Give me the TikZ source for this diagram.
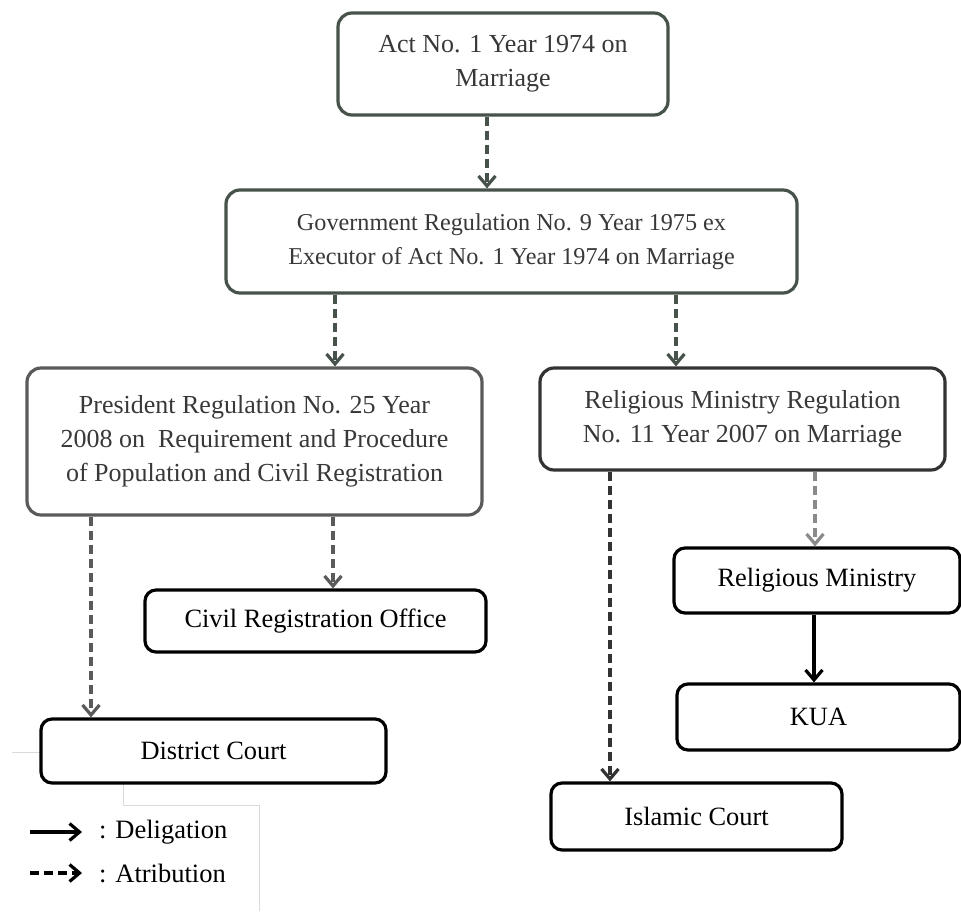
\documentclass[tikz,border=0pt]{standalone}
\usepackage{fontspec}
\setmainfont{Liberation Serif}
\usetikzlibrary{arrows.meta}
\definecolor{gdark}{HTML}{46524A}
\definecolor{gmid}{HTML}{5A5A5A}
\definecolor{glight}{HTML}{8A8A8A}
\definecolor{faintc}{HTML}{DADADA}
\begin{document}
\begin{tikzpicture}[x=1pt,y=-1pt,
  box/.style={draw, rounded corners=14pt, line width=3.2pt, align=center, inner sep=0pt},
  topbox/.style={box, draw=gdark, text=black!78, font=\fontsize{26}{34}\selectfont},
  lowbox/.style={box, draw=black, rounded corners=11pt, text=black, font=\fontsize{26.4}{34}\selectfont},
  tipa/.style={-{Straight Barb[length=10pt,width=17pt]}},
  attr/.style={tipa, line width=3.2pt, dash pattern=on 9pt off 5pt},
  deleg/.style={tipa, line width=3.2pt},
  faint/.style={draw=faintc, line width=1pt}
]
\useasboundingbox (0,0) rectangle (961,911);

% faint artefact lines
\draw[faint] (12,752) -- (41,752);
\draw[faint] (123,783) -- (123,805) -- (259,805) -- (259,911);

% boxes
\node[topbox, minimum width=330pt, minimum height=102pt] (act) at (503,64)
  {Act No. 1 Year 1974 on\\Marriage};
\node[topbox, font=\fontsize{24.2}{34}\selectfont, minimum width=571pt, minimum height=103pt] (gov) at (511.5,241.5)
  {Government Regulation No. 9 Year 1975 ex\\Executor of Act No. 1 Year 1974 on Marriage};
\node[topbox, draw=gmid, minimum width=455pt, minimum height=147pt] (pres) at (254.5,441.5)
  {President Regulation No. 25 Year\\2008 on \ Requirement and Procedure\\of Population and Civil Registration};
\node[topbox, draw=black!80, minimum width=405pt, minimum height=102pt] (rmr) at (742.5,419)
  {Religious Ministry Regulation\\No. 11 Year 2007 on Marriage};
\node[lowbox, minimum width=286pt, minimum height=65pt] (rm) at (817,580.5)
  {Religious Ministry};
\node[lowbox, minimum width=283pt, minimum height=66pt] (kua) at (818.5,717)
  {KUA};
\node[lowbox, minimum width=291pt, minimum height=67pt] (isl) at (696.5,816.5)
  {Islamic Court};
\node[lowbox, minimum width=341pt, minimum height=62pt] (civ) at (315.5,621)
  {Civil Registration Office};
\node[lowbox, minimum width=345pt, minimum height=64pt] (dis) at (213.5,751)
  {District Court};

% connectors
\draw[attr, gdark] ([xshift=-16pt]act.south) -- ([xshift=-16pt]act.south |- gov.north);
\draw[attr, gdark] ([xshift=-176.5pt]gov.south) -- ([xshift=-176.5pt]gov.south |- pres.north);
\draw[attr, gdark] ([xshift=164.5pt]gov.south) -- ([xshift=164.5pt]gov.south |- rmr.north);
\draw[attr, gmid] ([xshift=-163.5pt]pres.south) -- ([xshift=-163.5pt]pres.south |- dis.north);
\draw[attr, gmid] ([xshift=78.5pt]pres.south) -- ([xshift=78.5pt]pres.south |- civ.north);
\draw[attr, black!80] ([xshift=-132.5pt]rmr.south) -- ([xshift=-132.5pt]rmr.south |- isl.north);
\draw[attr, glight] ([xshift=72.5pt]rmr.south) -- ([xshift=72.5pt]rmr.south |- rm.north);
\draw[deleg, black] ([xshift=-3pt]rm.south) -- ([xshift=-3pt]rm.south |- kua.north);

% legend
\coordinate (la1) at (30,832);
\coordinate (lb1) at (82,832);
\coordinate (la2) at (30,873);
\coordinate (lb2) at (82,873);
\draw[deleg] (la1) -- (lb1);
\draw[attr] (la2) -- (lb2);
\node[anchor=west, inner sep=0pt, font=\fontsize{26.5}{30}\selectfont] (ld) at (99,832) {: Deligation};
\node[anchor=west, inner sep=0pt, font=\fontsize{26.5}{30}\selectfont] (lt) at (99,873) {: Atribution};
\end{tikzpicture}
\end{document}
